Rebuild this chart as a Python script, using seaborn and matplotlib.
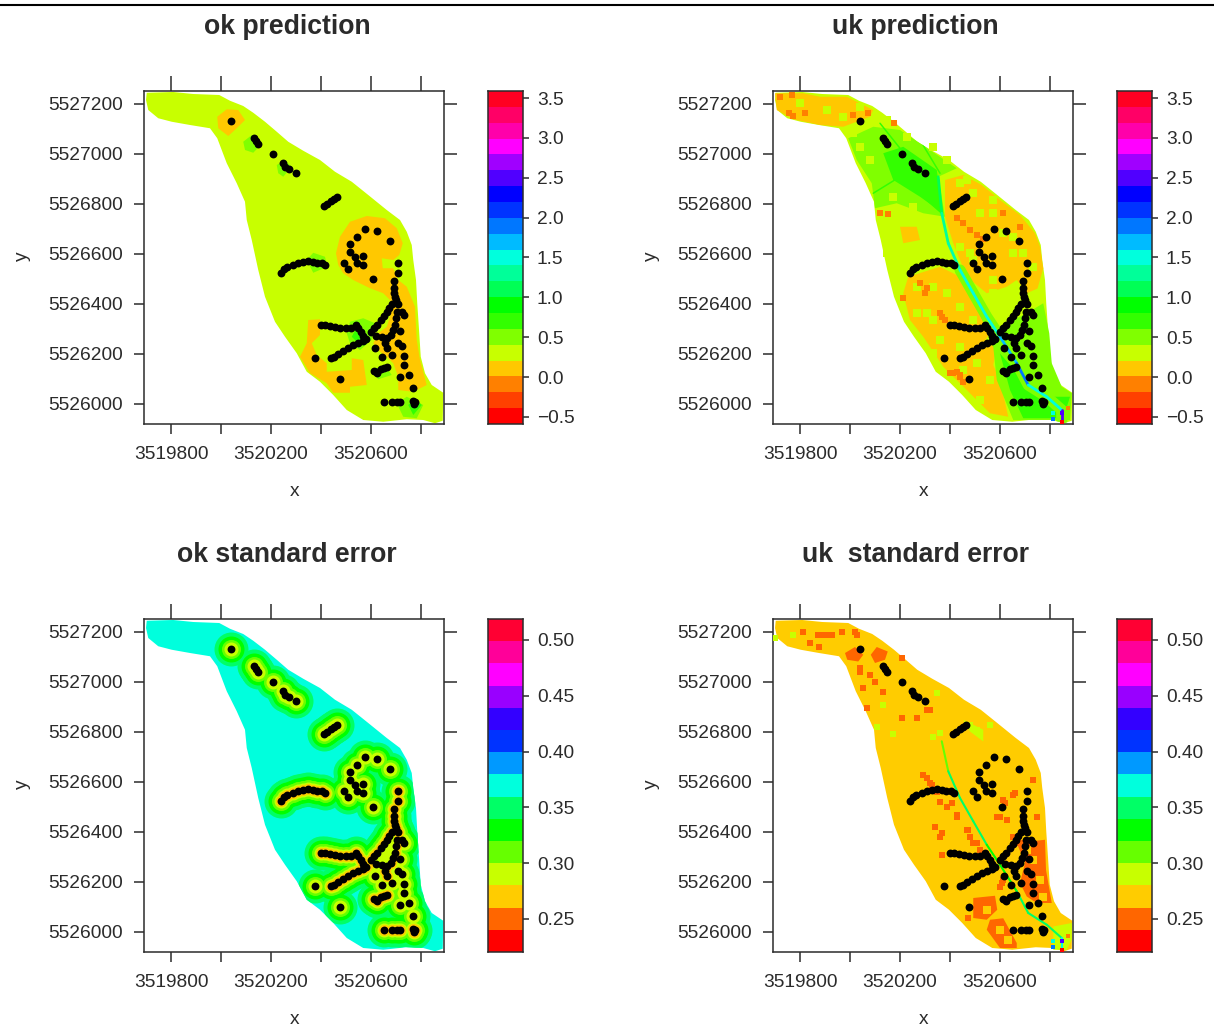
import matplotlib
matplotlib.use('Agg')
import matplotlib.pyplot as plt
import numpy as np
import pandas as pd
import seaborn as sns
from matplotlib.colors import ListedColormap
from matplotlib.lines import Line2D

# all coordinates are metres east / north of this origin
east0 = 3519600
north0 = 5525900

x_ticks = [3519800, 3520000, 3520200, 3520400, 3520600, 3520800]
x_labelled = ['3519800', '', '3520200', '', '3520600', '']
y_ticks = [5526000, 5526200, 5526400, 5526600, 5526800, 5527000, 5527200]

pred_levels = ['#ff0000', '#ff4000', '#ff8000', '#ffc800', '#c8ff00', '#80ff00', '#33ff00',
               '#00ff00', '#00ff55', '#00ff99', '#00ffdd', '#00bbff', '#0077ff', '#0033ff',
               '#0000ff', '#5000ff', '#a000ff', '#ff00ff', '#ff00aa', '#ff0066', '#ff0022']
se_levels = ['#ff0000', '#ff6600', '#ffcc00', '#c8ff00', '#66ff00', '#00ff00', '#00ff66',
             '#00ffdd', '#0099ff', '#0033ff', '#3300ff', '#9900ff', '#ff00ff', '#ff0099', '#ff0033']
pred_range = [-0.588, 3.588]
se_range = [0.2204, 0.5188]
pred_ticks = [-0.5, 0.0, 0.5, 1.0, 1.5, 2.0, 2.5, 3.0, 3.5]
se_ticks = [0.25, 0.30, 0.35, 0.40, 0.45, 0.50]

sample_x = [439, 532, 540, 549, 607, 647, 657, 671, 700, 812, 825, 840, 852, 864,
            639, 652, 665, 689, 709, 729, 749, 767, 785, 803, 816,
            976, 1023, 945, 1077, 915, 915, 968, 936, 892, 945, 969, 907, 1008,
            1107, 1107, 1092, 1092, 1092, 1096,
            1099, 1085, 1073, 1063, 1052, 1039, 1025, 1012, 999,
            1107, 1103, 1100, 1096, 1089, 1079, 1063, 1043, 1019, 1056, 1063,
            1123, 1132, 1116, 1109, 1123, 1016, 1045, 1085, 1131, 1131, 1153, 1116, 1169,
            799, 816, 836, 856, 876, 900, 919, 940, 949, 959, 969, 980,
            969, 949, 929, 909, 889, 869, 852, 839, 777, 876,
            1013, 1025, 1039, 1052, 1063, 1023,
            1053, 1085, 1103, 1116, 1167, 1177, 1172]
sample_y = [1229, 1161, 1150, 1138, 1098, 1061, 1047, 1038, 1021, 890, 899, 911, 919, 926,
            623, 637, 645, 654, 661, 667, 670, 667, 663, 661, 653,
            799, 791, 767, 751, 738, 706, 691, 685, 661, 663, 653, 637, 598,
            661, 621, 591, 561, 543, 527,
            514, 498, 481, 467, 450, 434, 414, 401, 385,
            498, 467, 441, 414, 394, 374, 361, 365, 370, 341, 321,
            467, 454, 391, 343, 330, 323, 285, 293, 291, 253, 214, 207, 161,
            414, 414, 410, 405, 402, 401, 403, 414, 401, 385, 370, 357,
            351, 341, 334, 323, 311, 298, 287, 281, 283, 198,
            231, 227, 237, 241, 247, 223,
            106, 106, 106, 106, 109, 106, 98]
# the runs of samples along the dense transects
dense_runs = [(14, 25), (38, 64), (77, 97), (99, 112)]

area_outline = [(103, 1343), (209, 1346), (289, 1338), (393, 1334), (436, 1311), (489, 1290), (529, 1263),
                (576, 1227), (623, 1187), (669, 1147), (729, 1111), (796, 1074), (856, 1027), (923, 987),
                (989, 934), (1063, 874), (1116, 834), (1143, 787), (1163, 734), (1169, 674), (1180, 594),
                (1185, 501), (1193, 381), (1199, 287), (1216, 221), (1243, 174), (1289, 143), (1287, 31),
                (1256, 21), (1209, 34), (1143, 37), (1049, 27), (969, 34), (903, 74), (849, 134), (796, 187),
                (743, 227), (703, 301), (656, 367), (616, 427), (576, 527), (549, 634), (523, 754), (503, 834),
                (496, 907), (463, 981), (423, 1061), (385, 1161), (356, 1201), (276, 1214), (203, 1227),
                (149, 1241), (109, 1274), (100, 1314)]

# ok prediction zones
ok_low_east = [(860, 701), (876, 767), (916, 827), (983, 850), (1056, 841), (1103, 801), (1127, 741), (1113, 694),
               (1089, 674), (1043, 681), (1047, 641), (1089, 641), (1109, 594), (1143, 567), (1176, 487), (1183, 354),
               (1196, 274), (1223, 174), (1169, 147), (1109, 154), (1109, 207), (1089, 261), (1063, 287), (1036, 307),
               (1009, 341), (1029, 381), (1063, 407), (1089, 487), (1076, 514), (1049, 541), (996, 561), (929, 594),
               (889, 621), (869, 654)]
ok_low_west = [(749, 434), (796, 437), (796, 374), (763, 341), (783, 294), (823, 261), (823, 227), (923, 234),
               (923, 281), (969, 274), (983, 174), (916, 167), (916, 143), (849, 143), (823, 181), (756, 221),
               (716, 287), (743, 341)]
ok_low_top = [(385, 1247), (423, 1277), (469, 1274), (496, 1234), (463, 1201), (429, 1170), (389, 1201)]
ok_high = [[(489, 1147), (523, 1174), (559, 1134), (529, 1103), (496, 1114)],
           [(623, 1054), (656, 1074), (683, 1047), (649, 1007), (629, 1021)],
           [(743, 674), (769, 703), (816, 687), (825, 647), (769, 623)],
           [(903, 381), (916, 427), (969, 441), (1016, 421), (1003, 354), (956, 314), (916, 341)],
           [(996, 234), (1056, 254), (1083, 214), (1029, 197)],
           [(1103, 101), (1143, 127), (1209, 94), (1183, 41), (1129, 47)]]
ok_peak = [[(923, 367), (949, 414), (983, 367), (956, 334)],
           [(1149, 94), (1176, 121), (1203, 94), (1169, 54)]]

# uk prediction zones
uk_tail = [(100, 1341), (213, 1341), (280, 1327), (387, 1327), (493, 1274), (480, 1247), (373, 1207), (280, 1214),
           (173, 1237), (107, 1274)]
uk_east = [(780, 994), (853, 1014), (927, 974), (1000, 914), (1080, 854), (1140, 781), (1160, 727), (1173, 640),
           (1150, 560), (1107, 541), (1067, 594), (1027, 567), (947, 541), (867, 607), (813, 741), (780, 847)]
uk_southwest = [(633, 607), (760, 647), (840, 607), (893, 527), (947, 447), (960, 381), (933, 341), (987, 327),
                (973, 254), (1000, 194), (1033, 47), (960, 61), (867, 154), (773, 247), (693, 367), (640, 434),
                (613, 541)]
uk_west_blob = [(600, 807), (667, 807), (680, 754), (613, 741)]
uk_basin = [(393, 1161), (493, 1207), (600, 1194), (680, 1141), (827, 1041), (753, 1007), (780, 847), (693, 861),
            (587, 901), (500, 881), (487, 981), (427, 1074)]
uk_basin_core = [(533, 1101), (613, 1127), (747, 1034), (773, 861), (680, 927), (573, 994)]
uk_southeast = [(907, 487), (1000, 407), (1107, 461), (1173, 501), (1197, 381), (1207, 261), (1247, 167), (1287, 141),
                (1280, 34), (1213, 34), (1053, 34), (987, 194), (973, 327)]
uk_southeast_core = [(1000, 300), (1093, 194), (1187, 127), (1280, 127), (1253, 41), (1093, 41), (1040, 154)]
uk_east_low = [(1120, 341), (1187, 327), (1207, 221), (1147, 221)]
uk_stream_a_x = [520, 627, 767]
uk_stream_a_y = [1221, 1087, 861]
uk_stream_b_x = [493, 600, 767]
uk_stream_b_y = [941, 1007, 861]
uk_stream_c_x = [680, 760]
uk_stream_c_y = [1154, 1021]
uk_orange_x = [157, 173, 120, 167, 220, 413, 473, 576, 553, 520, 613, 767, 813, 840, 707,
               827, 853, 880, 907, 933, 680, 700, 760, 780, 800, 827, 840, 853, 1013, 1080]
uk_orange_y = [1261, 1250, 1327, 1334, 1261, 1254, 1261, 1223, 858, 861, 521, 447, 221, 214, 561,
               841, 821, 794, 774, 757, 581, 541, 461, 434, 221, 227, 207, 187, 861, 807]
uk_lime_x = [573, 547, 720, 707, 573, 893, 973, 1053, 973, 893, 840, 1133, 733, 667, 853, 920, 200, 307, 373, 440,
             480, 440, 413, 547, 627, 733, 787, 573, 653,
             733, 787, 840, 893, 707, 667, 760, 733, 840, 907, 960, 1013, 1093, 1053, 973, 880, 840, 920, 973, 867]
uk_lime_y = [767, 701, 754, 701, 634, 674, 594, 701, 861, 941, 981, 647, 434, 461, 234, 114, 1301, 1274, 1247, 1287,
             1074, 1127, 1181, 1234, 1167, 1127, 1074, 927, 887,
             567, 541, 487, 434, 461, 567, 354, 301, 327, 261, 194, 781, 701, 767, 541, 701, 727, 861, 914, 994]

# drainage line shared by both uk maps, with the wet bits at its foot
river_x = [753, 767, 793, 840, 893, 947, 1000, 1067, 1113, 1187, 1247, 1247]
river_y = [1007, 861, 741, 634, 541, 447, 367, 261, 174, 127, 74, 21]
uk_river_levels = ['#00ff55', '#00ff99', '#00ffaa', '#00ffdd', '#00ffdd', '#00ffdd', '#00bbff', '#0077ff',
                   '#00ffdd', '#00ffdd', '#5000ff']
se_river_levels = [None, '#66ff00', '#00ff66', '#00ff66', '#00ff66', '#00ff00', '#00ff00', '#00ff66',
                   '#00ff66', '#00ff66', '#00ffdd']
tip_x = [1213, 1247, 1247, 1213, 1273]
tip_y = [37, 61, 27, 61, 81]
tip_levels = ['#0077ff', '#5000ff', '#ff0000', '#00ffdd', '#ff8000']

# uk standard error zones
se_patches = [[(380, 1214), (420, 1238), (453, 1207), (433, 1180), (389, 1187)],
              [(483, 1207), (507, 1238), (551, 1220), (540, 1187), (500, 1174)],
              [(260, 1300), (340, 1300), (340, 1274), (260, 1274)],
              [(1067, 454), (1180, 467), (1184, 347), (1207, 214), (1147, 214), (1107, 240), (1080, 294), (1100, 374)],
              [(893, 234), (980, 243), (989, 187), (947, 147), (893, 154)],
              [(960, 147), (1013, 153), (1067, 54), (1067, 34), (1000, 34), (947, 107)]]
se_orange_x = [607, 240, 277, 420, 367, 467, 607, 667, 707, 767, 740, 827, 1000, 1020, 1060, 1147, 873, 893, 920,
               769, 1007, 807, 693, 720, 747, 873,
               867, 880, 907, 760, 787, 827, 1013, 1053, 987, 1027, 707, 727, 760, 440, 480, 500, 453, 533, 440,
               720, 213, 427, 1000, 1013, 1133, 1053, 1080]
se_orange_y = [1194, 1254, 1240, 1300, 1300, 994, 956, 954, 987, 494, 520, 567, 560, 614, 654, 560, 507, 454, 427,
               407, 294, 614, 727, 694, 660, 154,
               507, 480, 454, 480, 600, 560, 627, 647, 560, 547, 713, 687, 620, 1154, 1127, 1100, 1074, 1060, 1140,
               987, 1300, 1287, 280, 307, 707, 480, 454]
se_yellow_x = [1133, 1160, 1107, 1173, 947, 1000, 1033]
se_yellow_y = [387, 307, 427, 240, 187, 107, 67]
se_lime_x = [760, 733, 573, 907, 880, 507, 960, 173, 100, 747, 533]
se_lime_y = [893, 880, 891, 907, 927, 920, 927, 1287, 1274, 1054, 1007]
se_lime_east = [(853, 947), (933, 907), (933, 860), (880, 900)]
se_lime_corner = [(1213, 120), (1287, 134), (1287, 67), (1267, 27), (1213, 27)]

# ok standard error: green floor under the dense transects, then halos around samples
okse_floor = [(1000, 380), (1130, 470), (1150, 290), (1180, 160), (1110, 150), (1040, 260), (990, 300)]
okse_core = [(1010, 385), (1060, 470), (1095, 500), (1095, 400), (1060, 350), (1010, 340)]
halo_levels = ['#00ff66', '#00ff00', '#66ff00', '#c8ff00', '#ffcc00']
halo_radii = [17, 13, 9.5, 7, 5.5]

titles = ['ok prediction', 'uk prediction', 'ok standard error', 'uk  standard error']

W, H = 1214, 1028
sns.set_style('white')
plt.rcParams['font.family'] = ['Liberation Sans', 'DejaVu Sans']
ink = '#2b2b2b'
label_size = 13.8


def box(left, top, right, bottom):
    return [left / W, 1 - bottom / H, (right - left) / W, (bottom - top) / H]


def fill(ax, poly, color):
    pts = np.array(poly)
    return ax.fill(pts[:, 0] + east0, pts[:, 1] + north0, color=color, lw=0, zorder=2)[0]


def squares(ax, xs, ys, color, size):
    sns.scatterplot(x=np.array(xs) + east0, y=np.array(ys) + north0, ax=ax, color=color, marker='s',
                    s=size, linewidth=0, zorder=3, legend=False)


def line(ax, xs, ys, color, width, z=3, clip=None):
    seg = pd.DataFrame({'x': np.array(xs) + east0, 'y': np.array(ys) + north0})
    sns.lineplot(data=seg, x='x', y='y', ax=ax, color=color, lw=width, sort=False, estimator=None, zorder=z,
                 legend=False)
    if clip is not None:
        ax.lines[-1].set_clip_path(clip)


def river(ax, colors, width):
    for i, c in enumerate(colors):
        if c is not None:
            line(ax, river_x[i:i + 2], river_y[i:i + 2], c, width, z=4)
    for x, y, c in zip(tip_x, tip_y, tip_levels):
        sns.scatterplot(x=[x + east0], y=[y + north0], ax=ax, color=c, marker='s', s=12, linewidth=0, zorder=4,
                        legend=False)


def samples(ax):
    sns.scatterplot(x=np.array(sample_x) + east0, y=np.array(sample_y) + north0, ax=ax, color='black',
                    s=32, linewidth=0, zorder=6, legend=False)


def finish_map(ax):
    ax.set_xlim(east0 + 92, east0 + 1292)
    ax.set_ylim(north0 + 18, north0 + 1350)
    ax.set_xticks(x_ticks)
    ax.set_xticklabels(x_labelled)
    ax.set_yticks(y_ticks)
    ax.set_yticklabels([str(v) for v in y_ticks])
    ax.tick_params(axis='both', which='major', top=True, right=True, bottom=True, left=True, length=7.5,
                   width=1.1, color=ink, labelsize=label_size, labelcolor=ink)
    ax.tick_params(axis='x', pad=8)
    ax.tick_params(axis='y', pad=8)
    for t in ax.xaxis.get_major_ticks():
        t.tick2line.set_markersize(10.5)
    for t in ax.yaxis.get_major_ticks():
        t.tick2line.set_markersize(9)
    for s in ax.spines.values():
        s.set_visible(True)
        s.set_linewidth(1.1)
        s.set_color(ink)
    ax.set_xlabel('x', fontsize=label_size, color=ink, va='center')
    ax.set_ylabel('y', fontsize=label_size, color=ink, va='center')
    ax.xaxis.set_label_coords(0.503, -67 / 333)
    ax.yaxis.set_label_coords(-122 / 300, 0.505)


def colorbar(ax, levels, val_range, ticks, fmt):
    n = len(levels)
    grid = pd.DataFrame({'level': np.arange(n)[::-1]})
    sns.heatmap(grid, ax=ax, cmap=ListedColormap(levels), cbar=False, vmin=-0.5, vmax=n - 0.5,
                xticklabels=False, yticklabels=False)
    lo, hi = val_range
    ax.set_yticks([n - (v - lo) / (hi - lo) * n for v in ticks])
    ax.set_yticklabels([fmt.format(v).replace('-', '\u2212') for v in ticks], rotation=0)
    ax.yaxis.tick_right()
    ax.tick_params(axis='y', length=4.5, width=1.1, color=ink, labelsize=label_size, labelcolor=ink, pad=5.5,
                   right=True)
    ax.tick_params(axis='x', bottom=False)
    ax.set_ylabel('')
    for s in ax.spines.values():
        s.set_visible(True)
        s.set_linewidth(1.1)
        s.set_color(ink)


fig = plt.figure(figsize=(W / 100, H / 100), dpi=100)
fig.add_artist(Line2D([0, 1], [1 - 4.5 / H, 1 - 4.5 / H], color='black', lw=1.5))

lefts = [144, 773]
tops = [91, 619]
ax_ok = fig.add_axes(box(lefts[0], tops[0], lefts[0] + 300, tops[0] + 333))
ax_uk = fig.add_axes(box(lefts[1], tops[0], lefts[1] + 300, tops[0] + 333))
ax_okse = fig.add_axes(box(lefts[0], tops[1], lefts[0] + 300, tops[1] + 333))
ax_ukse = fig.add_axes(box(lefts[1], tops[1], lefts[1] + 300, tops[1] + 333))

# ok prediction
fill(ax_ok, area_outline, pred_levels[4])
for poly in [ok_low_east, ok_low_west, ok_low_top]:
    fill(ax_ok, poly, pred_levels[3])
for poly in ok_high:
    fill(ax_ok, poly, pred_levels[5])
for poly in ok_peak:
    fill(ax_ok, poly, pred_levels[6])
samples(ax_ok)

# uk prediction
outline_uk = fill(ax_uk, area_outline, pred_levels[4])
for poly in [uk_tail, uk_east, uk_southwest, uk_east_low, uk_west_blob]:
    fill(ax_uk, poly, pred_levels[3])
fill(ax_uk, uk_basin, pred_levels[5])
fill(ax_uk, uk_basin_core, pred_levels[6])
fill(ax_uk, uk_southeast, pred_levels[5])
fill(ax_uk, uk_southeast_core, pred_levels[6])
line(ax_uk, river_x[3:], river_y[3:], pred_levels[5], 8, clip=outline_uk)
line(ax_uk, uk_stream_a_x, uk_stream_a_y, pred_levels[6], 1.1, clip=outline_uk)
line(ax_uk, uk_stream_b_x, uk_stream_b_y, pred_levels[6], 1.1, clip=outline_uk)
line(ax_uk, uk_stream_c_x, uk_stream_c_y, pred_levels[6], 1.1, clip=outline_uk)
squares(ax_uk, uk_lime_x, uk_lime_y, pred_levels[4], 30)
squares(ax_uk, uk_orange_x, uk_orange_y, pred_levels[2], 18)
river(ax_uk, uk_river_levels, 2)
samples(ax_uk)

# ok standard error
outline_se = fill(ax_okse, area_outline, se_levels[7])
fill(ax_okse, okse_floor, se_levels[5])
dense_x = np.concatenate([sample_x[a:b] for a, b in dense_runs])
dense_y = np.concatenate([sample_y[a:b] for a, b in dense_runs])
for c, r in zip(halo_levels, halo_radii):
    # the lowest error class only shows along the dense transects
    xs, ys = (dense_x, dense_y) if c == halo_levels[-1] else (np.array(sample_x), np.array(sample_y))
    sns.scatterplot(x=xs + east0, y=ys + north0, ax=ax_okse, color=c,
                    s=(2 * r * 0.72) ** 2, linewidth=0, zorder=3, legend=False)
    ax_okse.collections[-1].set_clip_path(outline_se)
fill(ax_okse, okse_core, se_levels[3]).set_zorder(3)
samples(ax_okse)

# uk standard error
fill(ax_ukse, area_outline, se_levels[2])
for poly in se_patches:
    fill(ax_ukse, poly, se_levels[1])
fill(ax_ukse, se_lime_east, se_levels[3])
fill(ax_ukse, se_lime_corner, se_levels[3])
squares(ax_ukse, se_orange_x, se_orange_y, se_levels[1], 14)
squares(ax_ukse, se_yellow_x, se_yellow_y, se_levels[2], 40)
squares(ax_ukse, se_lime_x, se_lime_y, se_levels[3], 22)
river(ax_ukse, se_river_levels, 1.5)
samples(ax_ukse)

for ax in [ax_ok, ax_uk, ax_okse, ax_ukse]:
    finish_map(ax)

for left, top, levels, val_range, ticks, fmt in [
    (488, tops[0], pred_levels, pred_range, pred_ticks, '{:.1f}'),
    (1117, tops[0], pred_levels, pred_range, pred_ticks, '{:.1f}'),
    (488, tops[1], se_levels, se_range, se_ticks, '{:.2f}'),
    (1117, tops[1], se_levels, se_range, se_ticks, '{:.2f}'),
]:
    cax = fig.add_axes(box(left, top, left + 35, top + 333))
    colorbar(cax, levels, val_range, ticks, fmt)

for title, (cx, cy) in zip(titles, [(287, 27), (915, 27), (287, 555), (915, 555)]):
    fig.text(cx / W, 1 - cy / H, title, ha='center', va='center', fontsize=19.2, fontweight='bold', color=ink)

fig.savefig('out.png', dpi=100)
plt.close(fig)
